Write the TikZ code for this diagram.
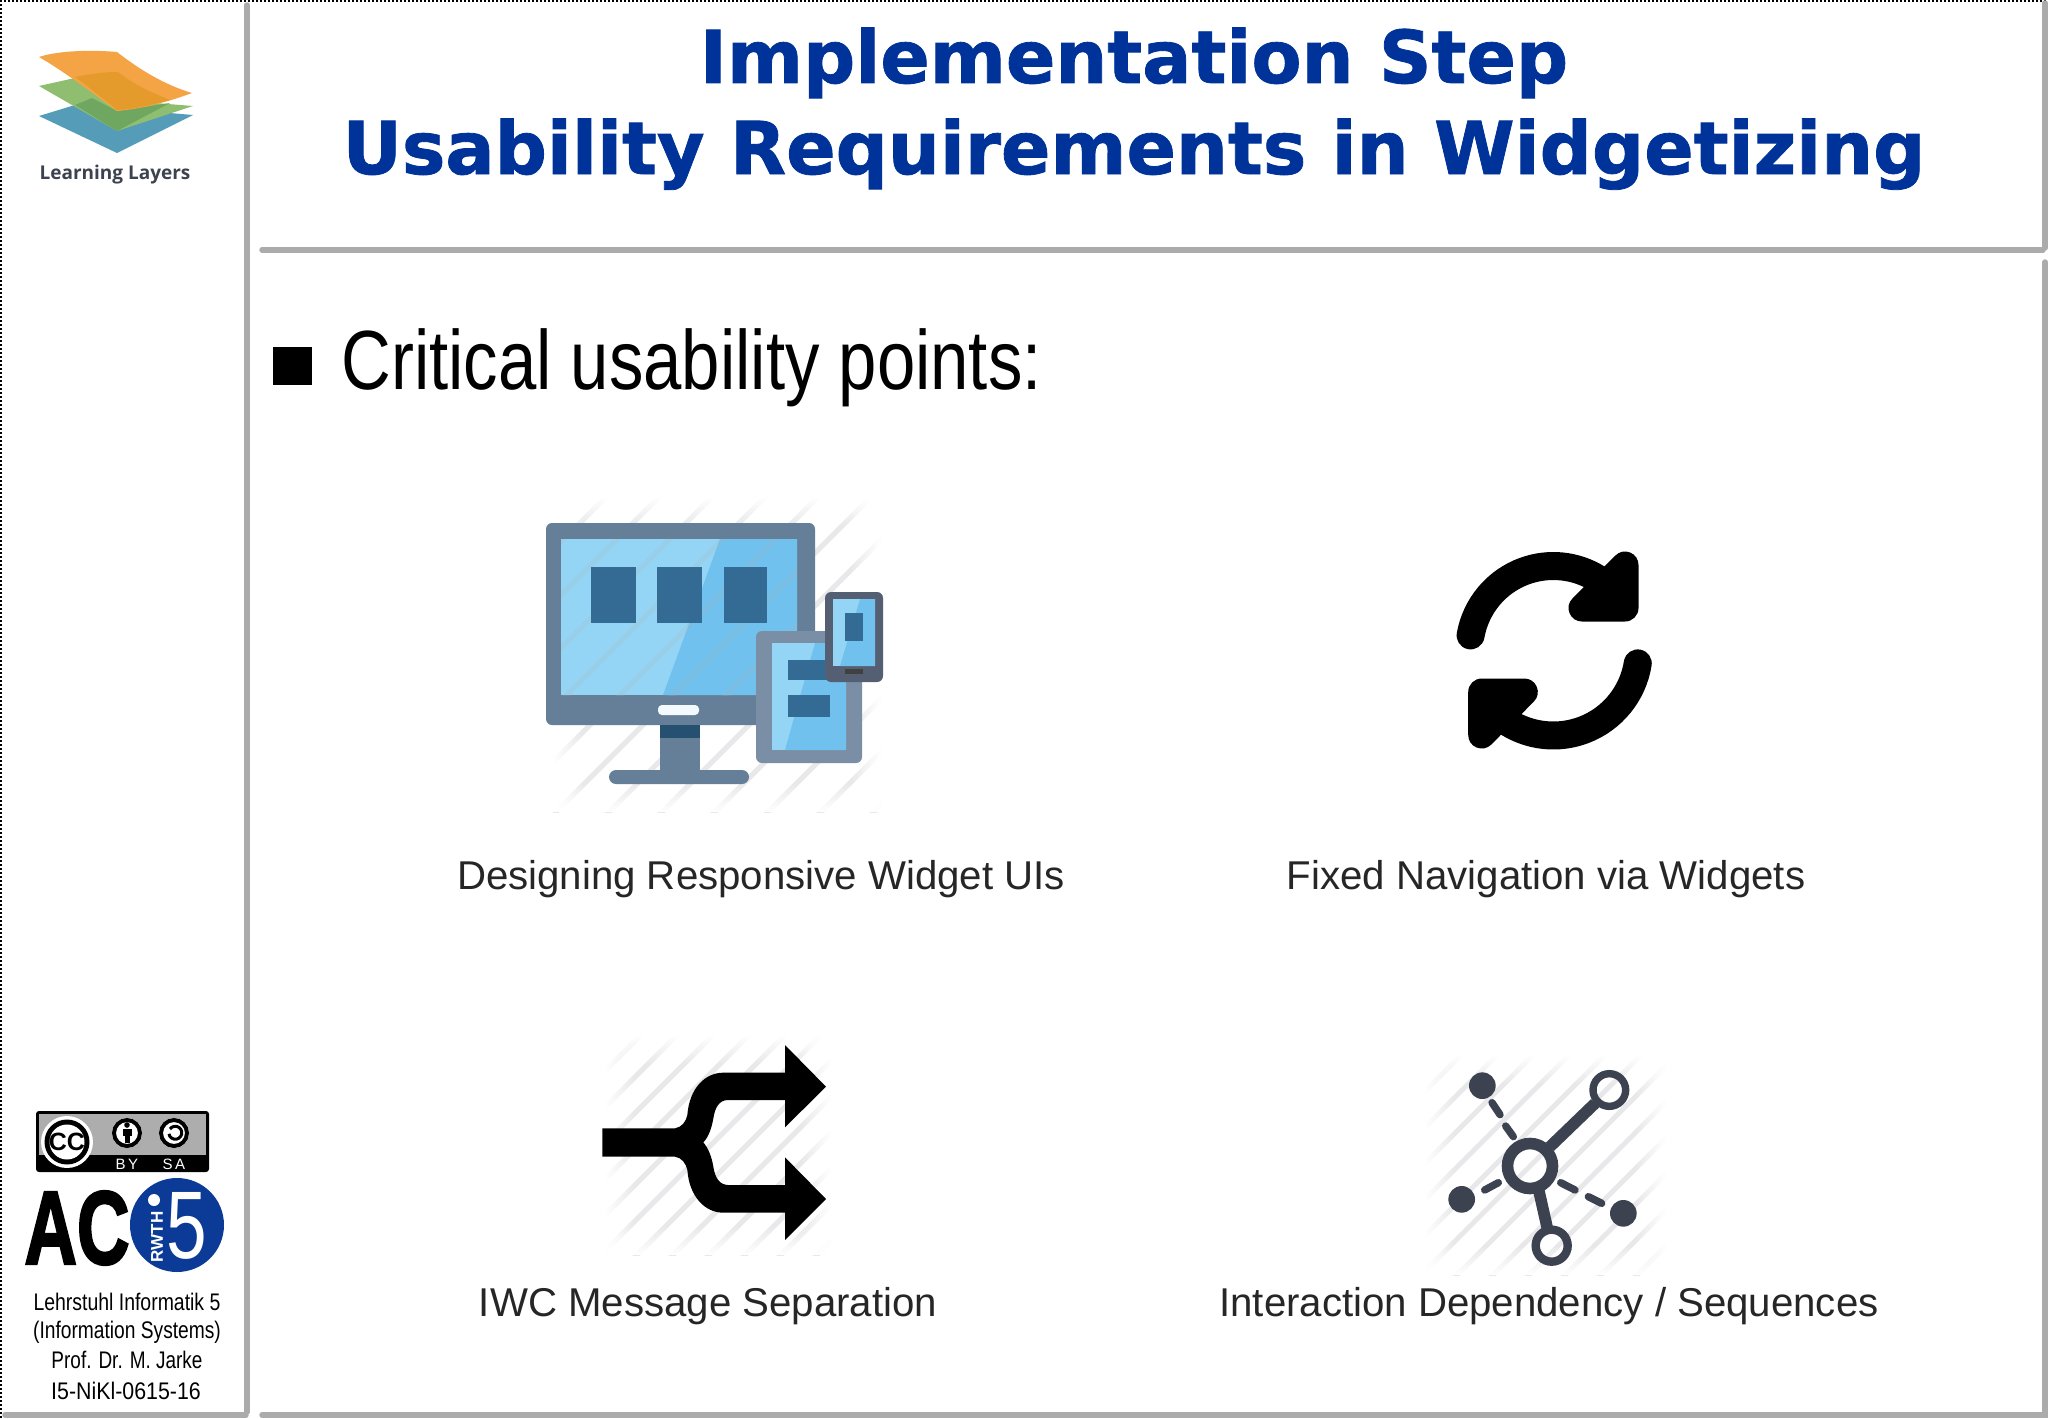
\documentclass[tikz,border=0pt]{standalone}
\usepackage{fontspec}
\setmainfont{Liberation Sans}
\newfontfamily\titlefont[FakeBold=1.1]{DejaVu Sans Bold}
\newfontfamily\acfont[FakeBold=2.5]{Liberation Sans Bold}
\newfontfamily\logofont{Open Sans}
\usetikzlibrary{fadings}
\definecolor{titleblue}{HTML}{003399}
\definecolor{rule}{HTML}{ABABAB}
\definecolor{orangeA}{HTML}{F4A445}
\definecolor{orangeB}{HTML}{E59B2B}
\definecolor{greenA}{HTML}{8FBE70}
\definecolor{greenB}{HTML}{70A760}
\definecolor{blueA}{HTML}{559CB9}
\definecolor{frame}{HTML}{667F98}
\definecolor{skyA}{HTML}{94D5F5}
\definecolor{skyB}{HTML}{70C1EE}
\definecolor{block}{HTML}{336B94}
\definecolor{phone}{HTML}{555F73}
\definecolor{tablet}{HTML}{7A8FA6}
\definecolor{netcol}{HTML}{3D4250}
\definecolor{rwth}{HTML}{0B3B96}
\definecolor{hatchcol}{HTML}{E8E8EA}
\newcommand{\hatchbox}[5]{%
  \begin{scope}
    \clip (#1,#2) rectangle (#3,#4);
    \foreach \k in {0,...,30}{
      \draw[hatchcol,line width=2.5pt] ({#1+\k*#5},#2) -- ++(-900,900);
    }
  \end{scope}
  \fill[white,path fading=east] (#1,#2) rectangle ({#1+30},#4);
  \fill[white,path fading=west] ({#3-30},#2) rectangle (#3,#4);
  \fill[white,path fading=north] (#1,{#4-30}) rectangle (#3,#4);
  \fill[white,path fading=south] (#1,#2) rectangle (#3,{#2+30});
}
\newcommand{\glassbox}[4]{%
  \begin{scope}
    \clip (#1,#2) rectangle (#3,#4);
    \foreach \k in {0,...,18}{
      \draw[black!30,opacity=0.18,line width=2.5pt] ({553+\k*53},497) -- ++(-900,900);
    }
  \end{scope}
}
\tikzset{
  rulev/.style={rule,line width=2.7pt,line cap=round},
  caption/.style={font=\fontsize{20.1}{24}\selectfont,text=black!85,inner sep=0pt,anchor=center},
  sidetext/.style={font=\fontsize{12}{14}\selectfont,inner sep=0pt,anchor=center},
  titletext/.style={font=\titlefont\fontsize{36.5}{44}\selectfont,text=titleblue,inner sep=0pt,anchor=base},
  syncline/.style={line width=14pt,line cap=round},
  synchead/.style={line width=13.5pt,line join=round,fill=black,draw=black},
  netline/.style={netcol,line cap=round},
}
\begin{document}
\begin{tikzpicture}[x=0.5pt,y=-0.5pt]
\useasboundingbox (0,0) rectangle (2048,1418);
\fill[white] (0,0) rectangle (2048,1418);
% dotted border
\draw[black,line width=1pt,dash pattern=on 1pt off 1pt] (1,1418) -- (1,1) -- (2048,1);
% rules
\draw[rulev] (247,5) -- (247,1412);
\draw[rulev] (5,1415) -- (246,1415);
\draw[rulev] (262,250) -- (2043,250);
\draw[rulev] (2045,3) -- (2045,248);
\draw[rulev] (2045,262) -- (2045,1412);
\draw[rulev] (262,1415) -- (2048,1415);
% Learning Layers logo
\fill[blueA] (39,116) -- (75,105) -- (193,115) -- (117,153) -- cycle;
\fill[greenA] (39,86) -- (75,78) -- (117,100) -- (193,106) -- (117,131) -- cycle;
\fill[greenB] (75,105) -- (92,98) -- (117,111) -- (170,103) -- (117,131) -- cycle;
\fill[orangeA] (39,57) .. controls (60,50) and (95,50) .. (117,52) .. controls (140,70) and (165,85) .. (192,93) .. controls (165,103) and (140,109) .. (117,111) .. controls (95,95) and (65,72) .. (39,57) -- cycle;
\fill[orangeB] (75,77) .. controls (90,74) and (105,72) .. (118,72) .. controls (135,85) and (150,92) .. (170,100) .. controls (150,105) and (135,109) .. (117,110) .. controls (105,100) and (90,88) .. (75,77) -- cycle;
\node[font=\logofont\bfseries\fontsize{9.5}{12}\selectfont,text=netcol,inner sep=0pt] (ll) at (115,175) {Learning Layers};
% CC badge
\fill[black,rounded corners=1.5pt] (36,1111) rectangle (209,1172);
\fill[black!32] (39,1114) rectangle (206,1155);
\fill[white] (67,1142) circle (26);
\fill[black] (67,1142) circle (22.5);
\fill[white] (67,1142) circle (17.5);
\node[font=\bfseries\fontsize{12.5}{12}\selectfont,inner sep=0pt] (cc) at (67,1142) {CC};
\fill[white] (127,1133) circle (15);
\draw[black,line width=2pt] (127,1133) circle (13);
\fill[black] (127,1125) circle (2.8);
\fill[black] (122.5,1129) rectangle (131.5,1136);
\fill[black] (124.5,1136) rectangle (129.5,1143);
\fill[white] (174,1133) circle (15);
\draw[black,line width=2pt] (174,1133) circle (13);
\draw[black,line width=1.5pt] (170,1129) arc (215:530:6.5);
\node[text=white,font=\fontsize{7.5}{8}\selectfont,inner sep=0pt] (by) at (127,1164) {B\,Y};
\node[text=white,font=\fontsize{7.5}{8}\selectfont,inner sep=0pt] (sa) at (174,1164) {S\,A};
% AC i5
\node[font=\acfont\fontsize{52}{52}\selectfont,inner sep=0pt,xscale=0.70,anchor=center] (ac) at (77,1228) {AC};
\fill[rwth] (177,1225) circle (47);
\node[text=white,font=\fontsize{48}{48}\selectfont,inner sep=0pt,xscale=0.76] (five) at (187,1226) {5};
\fill[white] (154,1200) circle (6);
\node[text=white,font=\bfseries\fontsize{8.5}{9}\selectfont,inner sep=0pt,rotate=90] (rw) at (157,1237) {RWTH};
% side text
\node[sidetext,xscale=0.81] (s1) at (127,1302) {Lehrstuhl Informatik 5};
\node[sidetext,xscale=0.80] (s2) at (127,1332) {(Information Systems)};
\node[sidetext,xscale=0.79] (s3) at (127,1360) {Prof. Dr. M. Jarke};
\node[sidetext,xscale=0.89] (s4) at (126,1391) {I5-NiKl-0615-16};
% title
\node[titletext] (t1) at (1134,83) {Implementation Step};
\node[titletext] (t2) at (1134,174) {Usability Requirements in Widgetizing};
% bullet
\fill[black] (273,347) rectangle (312,385);
\node[font=\fontsize{42}{50}\selectfont,inner sep=0pt,anchor=west,xscale=0.82] (crit) at (341,368) {Critical usability points:};
% monitor icon
\hatchbox{553}{497}{880}{812}{53}
\fill[frame,rounded corners=3pt] (546,523) rectangle (815,725);
\fill[skyA] (561,539) rectangle (797,695);
\fill[skyB] (720,539) -- (797,539) -- (797,695) -- (663,695) -- cycle;
\glassbox{561}{539}{797}{695}
\fill[block] (591,567) rectangle (636,623);
\fill[block] (657,567) rectangle (702,623);
\fill[block] (724,567) rectangle (767,623);
\fill[white!88!skyA,rounded corners=2pt] (658,705) rectangle (699,715);
\fill[frame] (660,725) rectangle (700,772);
\fill[block!75!black] (660,725) rectangle (700,738);
\fill[frame,rounded corners=3.5pt] (609,770) rectangle (749,784);
\fill[tablet,rounded corners=3pt] (756,631) rectangle (862,763);
\fill[skyA] (772,643) rectangle (846,750);
\fill[skyB] (815,643) -- (846,643) -- (846,750) -- (785,750) -- cycle;
\fill[block] (788,660) rectangle (830,680);
\fill[block] (788,695) rectangle (830,717);
\fill[phone,rounded corners=3pt] (825,592) rectangle (883,682);
\fill[skyA] (833,599) rectangle (875,666);
\fill[skyB] (860,599) -- (875,599) -- (875,666) -- (840,666) -- cycle;
\fill[block] (845,613) rectangle (863,641);
\fill[black!75] (845,669) rectangle (863,674);
% sync icon
\draw[syncline] (1553.3,650) ++(190:84) arc (190:302:84);
\draw[syncline] (1553.3,650) ++(9:85.5) arc (9:122:85.5);
\draw[synchead] (1625,565) -- (1625,608) -- (1582,608) -- cycle;
\draw[synchead] (1481.7,692) -- (1481.7,735) -- (1524.3,692) -- cycle;
% split icon
\hatchbox{605}{1035}{830}{1255}{36}
\begin{scope}[shift={(580,1020)},scale=1/3]
\fill[black] (67,325) -- (285,325) .. controls (305,322) and (318,305) .. (322,285)
 .. controls (328,205) and (375,158) .. (430,158) -- (615,158) -- (615,75) -- (738,200) -- (615,322) -- (615,240) -- (445,240)
 .. controls (415,240) and (405,265) .. (400,295) .. controls (395,325) and (385,352) .. (370,367)
 .. controls (385,385) and (395,410) .. (400,440) .. controls (405,475) and (420,495) .. (445,495)
 -- (615,495) -- (615,412) -- (738,537) -- (615,660) -- (615,578) -- (430,578)
 .. controls (375,578) and (328,530) .. (322,450) .. controls (318,430) and (305,413) .. (285,410) -- (67,410) -- cycle;
\end{scope}
% network icon
\hatchbox{1425}{1055}{1665}{1275}{36}
\begin{scope}[shift={(1410,1040)},scale=1/3]
\draw[netcol,line width=5.8pt] (420,320) -- (555,190);
\draw[netcol,line width=5.8pt] (385,445) -- (412,565);
\draw[netline,line width=3.7pt] (246,188) -- (270,224);
\draw[netline,line width=3.7pt] (287,258) -- (310,290);
\draw[netline,line width=3.7pt] (224,450) -- (265,428);
\draw[netline,line width=3.7pt] (452,428) -- (495,450);
\draw[netline,line width=3.7pt] (535,470) -- (575,490);
\draw[netcol,line width=5.8pt] (360,378) circle (67.5);
\draw[netcol,line width=3.7pt] (598,150) circle (49);
\draw[netcol,line width=4.2pt] (425,617) circle (48);
\fill[netcol] (217,137) circle (40);
\fill[netcol] (155,478) circle (40);
\fill[netcol] (640,520) circle (40);
\end{scope}
% captions
\node[caption] (c1) at (761,879) {Designing Responsive Widget UIs};
\node[caption] (c2) at (1546,879) {Fixed Navigation via Widgets};
\node[caption] (c3) at (708,1306) {IWC Message Separation};
\node[caption] (c4) at (1549,1306) {Interaction Dependency / Sequences};
\end{tikzpicture}
\end{document}
